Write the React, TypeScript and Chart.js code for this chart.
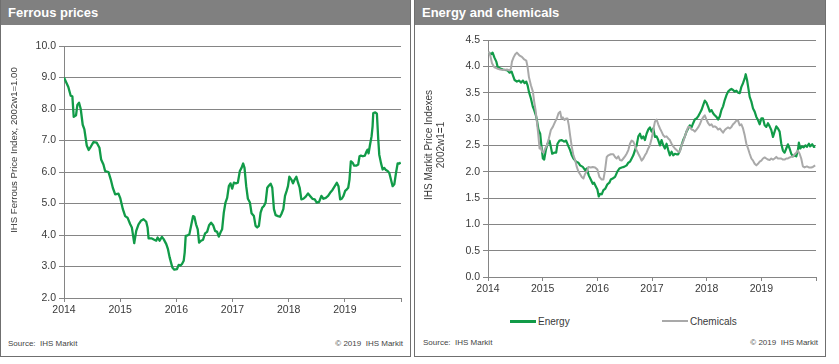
import React, { useEffect, useRef } from 'react';
import { Chart, registerables } from 'chart.js';

Chart.register(...registerables);

// ---------- DATA ----------
const yearTicks = [2014, 2015, 2016, 2017, 2018, 2019];

const ferrousYears = [
  2014.0, 2014.077, 2014.119, 2014.149, 2014.173, 2014.214, 2014.238, 2014.268, 2014.298, 2014.333,
  2014.363, 2014.405, 2014.44, 2014.476, 2014.524, 2014.583, 2014.631, 2014.661, 2014.702, 2014.732,
  2014.792, 2014.833, 2014.869, 2014.911, 2014.97, 2015.0, 2015.048, 2015.089, 2015.131, 2015.179,
  2015.208, 2015.25, 2015.286, 2015.327, 2015.369, 2015.417, 2015.464, 2015.488, 2015.506, 2015.565,
  2015.607, 2015.643, 2015.667, 2015.702, 2015.744, 2015.774, 2015.821, 2015.851, 2015.881, 2015.905,
  2015.929, 2015.964, 2016.012, 2016.042, 2016.071, 2016.101, 2016.131, 2016.149, 2016.167, 2016.202,
  2016.232, 2016.268, 2016.298, 2016.321, 2016.351, 2016.381, 2016.405, 2016.44, 2016.476, 2016.512,
  2016.548, 2016.583, 2016.619, 2016.655, 2016.69, 2016.726, 2016.756, 2016.786, 2016.815, 2016.845,
  2016.875, 2016.905, 2016.935, 2016.964, 2016.994, 2017.024, 2017.06, 2017.095, 2017.131, 2017.161,
  2017.19, 2017.214, 2017.244, 2017.274, 2017.31, 2017.339, 2017.381, 2017.411, 2017.44, 2017.47,
  2017.5, 2017.53, 2017.56, 2017.589, 2017.619, 2017.649, 2017.679, 2017.708, 2017.738, 2017.768,
  2017.81, 2017.845, 2017.869, 2017.905, 2017.935, 2017.964, 2017.988, 2018.012, 2018.048, 2018.077,
  2018.107, 2018.137, 2018.167, 2018.196, 2018.226, 2018.262, 2018.304, 2018.345, 2018.381, 2018.423,
  2018.464, 2018.5, 2018.542, 2018.583, 2018.619, 2018.661, 2018.702, 2018.738, 2018.78, 2018.821,
  2018.857, 2018.887, 2018.917, 2018.946, 2018.976, 2019.006, 2019.036, 2019.06, 2019.083, 2019.107,
  2019.137, 2019.167, 2019.202, 2019.238, 2019.262, 2019.286, 2019.321, 2019.357, 2019.381, 2019.405,
  2019.423, 2019.446, 2019.476, 2019.494, 2019.506, 2019.542, 2019.571, 2019.595, 2019.613, 2019.643,
  2019.673, 2019.702, 2019.732, 2019.762, 2019.792, 2019.821, 2019.851, 2019.881, 2019.911, 2019.94,
  2019.97, 2019.995,
];
const ferrousValues = [
  9.0, 8.7, 8.42, 8.4, 7.75, 7.8, 8.13, 8.2, 8.0, 7.5,
  7.35, 6.84, 6.7, 6.8, 6.95, 6.93, 6.77, 6.4, 6.24, 6.03,
  6.0, 5.76, 5.5, 5.29, 5.31, 5.18, 4.82, 4.6, 4.55, 4.34,
  4.24, 3.74, 4.13, 4.34, 4.45, 4.5, 4.42, 4.24, 3.89, 3.89,
  3.85, 3.82, 3.92, 3.82, 3.94, 3.87, 3.71, 3.55, 3.29, 3.13,
  2.97, 2.9, 2.92, 3.05, 3.03, 3.08, 3.18, 3.45, 3.97, 3.99,
  4.02, 4.34, 4.6, 4.58, 4.34, 4.18, 3.76, 3.82, 3.85, 4.05,
  4.1, 4.31, 4.39, 4.31, 4.13, 4.1, 3.95, 4.08, 4.18, 4.71,
  5.03, 5.18, 5.55, 5.64, 5.47, 5.66, 5.64, 5.66, 6.03, 6.13,
  6.27, 6.13, 5.55, 5.15, 5.03, 4.69, 4.6, 4.29, 4.24, 4.29,
  4.71, 4.87, 4.92, 5.03, 5.5, 5.57, 5.63, 5.5, 4.82, 4.63,
  4.6, 4.58, 4.66, 4.82, 5.24, 5.4, 5.55, 5.85, 5.76, 5.64,
  5.76, 5.85, 5.66, 5.5, 5.13, 5.15, 5.22, 5.32, 5.24, 5.15,
  5.13, 5.03, 5.05, 5.24, 5.15, 5.18, 5.24, 5.34, 5.43, 5.55,
  5.66, 5.55, 5.13, 5.15, 5.24, 5.4, 5.45, 5.5, 5.76, 6.34,
  6.3, 6.2, 6.2, 6.24, 6.5, 6.52, 6.5, 6.52, 6.63, 6.71,
  6.59, 6.84, 7.13, 7.45, 7.87, 7.89, 7.85, 7.03, 6.55, 6.29,
  6.08, 6.13, 6.06, 6.03, 5.97, 5.76, 5.55, 5.61, 5.97, 6.27,
  6.27, 6.3,
];

const energyYears = [
  2014.012, 2014.055, 2014.085, 2014.116, 2014.152, 2014.176, 2014.225, 2014.274, 2014.316, 2014.359,
  2014.395, 2014.432, 2014.456, 2014.487, 2014.529, 2014.572, 2014.602, 2014.639, 2014.669, 2014.7,
  2014.724, 2014.748, 2014.785, 2014.821, 2014.845, 2014.876, 2014.894, 2014.925, 2014.955, 2014.973,
  2015.004, 2015.028, 2015.058, 2015.089, 2015.125, 2015.15, 2015.174, 2015.21, 2015.247, 2015.271,
  2015.308, 2015.35, 2015.393, 2015.429, 2015.472, 2015.502, 2015.533, 2015.563, 2015.612, 2015.655,
  2015.685, 2015.734, 2015.776, 2015.807, 2015.843, 2015.88, 2015.916, 2015.94, 2015.977, 2016.001,
  2016.026, 2016.05, 2016.08, 2016.111, 2016.147, 2016.184, 2016.22, 2016.245, 2016.281, 2016.324,
  2016.366, 2016.403, 2016.445, 2016.488, 2016.536, 2016.567, 2016.597, 2016.628, 2016.658, 2016.689,
  2016.719, 2016.75, 2016.78, 2016.81, 2016.841, 2016.871, 2016.901, 2016.932, 2016.962, 2016.993,
  2017.023, 2017.054, 2017.084, 2017.114, 2017.145, 2017.175, 2017.206, 2017.236, 2017.266, 2017.297,
  2017.327, 2017.358, 2017.388, 2017.418, 2017.449, 2017.479, 2017.51, 2017.54, 2017.571, 2017.601,
  2017.631, 2017.662, 2017.692, 2017.723, 2017.753, 2017.783, 2017.814, 2017.844, 2017.875, 2017.905,
  2017.935, 2017.966, 2017.996, 2018.027, 2018.057, 2018.088, 2018.118, 2018.148, 2018.179, 2018.209,
  2018.24, 2018.27, 2018.3, 2018.331, 2018.361, 2018.392, 2018.422, 2018.453, 2018.483, 2018.513,
  2018.544, 2018.574, 2018.605, 2018.635, 2018.665, 2018.696, 2018.714, 2018.739, 2018.763, 2018.787,
  2018.818, 2018.848, 2018.878, 2018.909, 2018.939, 2018.97, 2019.0, 2019.03, 2019.061, 2019.091,
  2019.122, 2019.152, 2019.182, 2019.213, 2019.243, 2019.274, 2019.304, 2019.335, 2019.365, 2019.395,
  2019.426, 2019.456, 2019.487, 2019.517, 2019.547, 2019.578, 2019.608, 2019.639, 2019.669, 2019.687,
  2019.712, 2019.742, 2019.772, 2019.809, 2019.833, 2019.87, 2019.894, 2019.931, 2019.961, 2019.985,
];
const energyValues = [
  4.26, 4.23, 4.26, 4.17, 4.09, 3.99, 3.96, 3.94, 3.93, 3.92,
  3.88, 3.9, 3.83, 3.74, 3.71, 3.73, 3.69, 3.73, 3.68, 3.71,
  3.64, 3.52, 3.39, 3.23, 3.17, 3.07, 2.98, 2.79, 2.72, 2.53,
  2.25, 2.23, 2.41, 2.53, 2.59, 2.47, 2.34, 2.36, 2.36, 2.53,
  2.59, 2.6, 2.57, 2.59, 2.48, 2.41, 2.31, 2.25, 2.19, 2.17,
  2.12, 2.09, 2.03, 2.06, 1.93, 1.85, 1.77, 1.79, 1.71, 1.66,
  1.53, 1.58, 1.57, 1.65, 1.68, 1.76, 1.79, 1.85, 1.87, 1.9,
  2.0, 2.06, 2.08, 2.09, 2.12, 2.17, 2.19, 2.25, 2.31, 2.41,
  2.5, 2.67, 2.72, 2.63, 2.67, 2.6, 2.72, 2.8, 2.84, 2.76,
  2.82, 2.66, 2.67, 2.6, 2.5, 2.6, 2.5, 2.44, 2.53, 2.41,
  2.31, 2.38, 2.31, 2.34, 2.33, 2.33, 2.4, 2.5, 2.6, 2.67,
  2.76, 2.82, 2.88, 2.84, 2.92, 2.99, 3.01, 3.05, 3.11, 3.17,
  3.26, 3.35, 3.31, 3.23, 3.14, 3.17, 3.11, 3.07, 3.04, 2.99,
  3.05, 3.17, 3.24, 3.36, 3.45, 3.52, 3.55, 3.57, 3.55, 3.52,
  3.54, 3.5, 3.49, 3.61, 3.68, 3.77, 3.85, 3.74, 3.58, 3.42,
  3.33, 3.2, 3.14, 3.04, 2.98, 2.9, 3.01, 3.01, 2.88, 2.85,
  2.92, 2.86, 2.79, 2.66, 2.76, 2.86, 2.82, 2.76, 2.53, 2.4,
  2.36, 2.44, 2.52, 2.44, 2.34, 2.29, 2.31, 2.29, 2.41, 2.55,
  2.44, 2.48, 2.46, 2.5, 2.47, 2.53, 2.48, 2.52, 2.47, 2.48,
];

const chemicalsYears = [
  2014.012, 2014.043, 2014.073, 2014.116, 2014.164, 2014.225, 2014.286, 2014.347, 2014.395, 2014.42,
  2014.438, 2014.468, 2014.499, 2014.529, 2014.572, 2014.62, 2014.663, 2014.7, 2014.724, 2014.748,
  2014.785, 2014.821, 2014.845, 2014.87, 2014.894, 2014.918, 2014.943, 2014.967, 2014.991, 2015.016,
  2015.046, 2015.077, 2015.113, 2015.15, 2015.186, 2015.229, 2015.259, 2015.29, 2015.32, 2015.344,
  2015.369, 2015.399, 2015.429, 2015.454, 2015.478, 2015.502, 2015.533, 2015.563, 2015.594, 2015.624,
  2015.655, 2015.685, 2015.715, 2015.746, 2015.776, 2015.807, 2015.837, 2015.88, 2015.916, 2015.959,
  2016.001, 2016.038, 2016.08, 2016.111, 2016.141, 2016.172, 2016.202, 2016.245, 2016.293, 2016.324,
  2016.354, 2016.384, 2016.415, 2016.445, 2016.476, 2016.506, 2016.536, 2016.567, 2016.597, 2016.628,
  2016.658, 2016.689, 2016.719, 2016.75, 2016.78, 2016.81, 2016.841, 2016.871, 2016.901, 2016.932,
  2016.962, 2016.993, 2017.023, 2017.054, 2017.084, 2017.114, 2017.145, 2017.175, 2017.206, 2017.236,
  2017.266, 2017.297, 2017.327, 2017.358, 2017.388, 2017.418, 2017.449, 2017.479, 2017.51, 2017.54,
  2017.571, 2017.601, 2017.631, 2017.662, 2017.692, 2017.723, 2017.753, 2017.783, 2017.814, 2017.844,
  2017.875, 2017.905, 2017.935, 2017.966, 2017.996, 2018.027, 2018.057, 2018.088, 2018.118, 2018.148,
  2018.179, 2018.209, 2018.24, 2018.27, 2018.3, 2018.331, 2018.361, 2018.392, 2018.422, 2018.453,
  2018.483, 2018.513, 2018.544, 2018.574, 2018.605, 2018.635, 2018.665, 2018.696, 2018.726, 2018.757,
  2018.787, 2018.818, 2018.848, 2018.878, 2018.909, 2018.939, 2018.97, 2019.0, 2019.03, 2019.061,
  2019.091, 2019.122, 2019.152, 2019.182, 2019.213, 2019.243, 2019.274, 2019.304, 2019.335, 2019.365,
  2019.395, 2019.426, 2019.456, 2019.487, 2019.517, 2019.547, 2019.578, 2019.608, 2019.639, 2019.669,
  2019.7, 2019.73, 2019.76, 2019.791, 2019.833, 2019.87, 2019.912, 2019.943, 2019.985,
];
const chemicalsValues = [
  4.28, 4.2, 4.06, 3.98, 3.96, 3.94, 3.93, 3.94, 3.92, 3.96,
  4.09, 4.17, 4.23, 4.26, 4.21, 4.18, 4.13, 4.11, 3.99, 3.8,
  3.64, 3.52, 3.33, 3.17, 2.95, 2.72, 2.44, 2.47, 2.38, 2.36,
  2.44, 2.5, 2.63, 2.79, 2.85, 2.95, 3.01, 3.11, 3.14, 3.01,
  3.03, 2.98, 3.01, 3.01, 2.88, 2.69, 2.47, 2.31, 2.22, 2.09,
  2.0, 1.95, 1.9, 1.87, 1.96, 2.0, 2.09, 2.08, 2.09, 2.08,
  2.04, 1.9, 1.85, 1.85, 2.03, 2.28, 2.31, 2.33, 2.33, 2.28,
  2.25, 2.29, 2.22, 2.21, 2.25, 2.29, 2.34, 2.41, 2.53, 2.59,
  2.57, 2.5, 2.41, 2.34, 2.28, 2.21, 2.25, 2.31, 2.36, 2.44,
  2.5, 2.63, 2.79, 2.95, 2.99, 2.9, 2.82, 2.76, 2.69, 2.66,
  2.67, 2.63, 2.6, 2.53, 2.48, 2.44, 2.41, 2.38, 2.38, 2.5,
  2.57, 2.67, 2.76, 2.85, 2.85, 2.8, 2.79, 2.76, 2.8, 2.84,
  2.9, 2.98, 3.03, 3.07, 2.99, 2.92, 2.88, 2.9, 2.85, 2.86,
  2.84, 2.8, 2.82, 2.78, 2.74, 2.79, 2.82, 2.84, 2.82, 2.85,
  2.9, 2.93, 2.97, 2.97, 2.88, 2.9, 2.82, 2.69, 2.53, 2.44,
  2.34, 2.25, 2.21, 2.15, 2.12, 2.15, 2.19, 2.21, 2.25, 2.27,
  2.25, 2.23, 2.22, 2.25, 2.23, 2.25, 2.28, 2.25, 2.25, 2.25,
  2.23, 2.23, 2.25, 2.25, 2.27, 2.28, 2.29, 2.33, 2.36, 2.4,
  2.34, 2.25, 2.1, 2.08, 2.1, 2.08, 2.08, 2.09, 2.12,
];

const ferrousTicks = [2, 3, 4, 5, 6, 7, 8, 9, 10];
const indexTicks = [0, 0.5, 1, 1.5, 2, 2.5, 3, 3.5, 4, 4.5];

// ---------- STYLE ----------
const FONT = "'Liberation Sans', Arial, Helvetica, sans-serif";
const GREEN = '#119b48';
const GREY_LINE = '#a9a9a9';
const GRID = '#858585';
const TEXT = '#3a3a3a';

function pts(xs: number[], ys: number[]) {
  return xs.map((x, i) => ({ x, y: ys[i] }));
}

function makeScales(yTicks: number[], yAxisWidth: number, xAxisHeight: number) {
  return {
    x: {
      type: 'linear',
      min: 2014,
      max: 2020,
      afterBuildTicks: (s: any) => {
        s.ticks = [...yearTicks, 2020].map((v) => ({ value: v }));
      },
      afterFit: (s: any) => {
        s.height = xAxisHeight;
      },
      ticks: {
        autoSkip: false,
        maxRotation: 0,
        padding: 2,
        color: TEXT,
        font: { family: FONT, size: 10.5 },
        callback: (v: any) => (yearTicks.includes(v) ? String(v) : ''),
      },
      grid: { drawOnChartArea: false, drawTicks: true, tickLength: 4, color: GRID },
      border: { display: true, color: GRID, width: 1 },
    },
    y: {
      type: 'linear',
      min: yTicks[0],
      max: yTicks[yTicks.length - 1],
      afterBuildTicks: (s: any) => {
        s.ticks = yTicks.map((v) => ({ value: v }));
      },
      afterFit: (s: any) => {
        s.width = yAxisWidth;
      },
      ticks: {
        padding: 3,
        color: TEXT,
        font: { family: FONT, size: 10.5 },
        callback: (v: any) => Number(v).toFixed(1),
      },
      grid: { drawOnChartArea: true, drawTicks: true, tickLength: 5, color: GRID, lineWidth: 1 },
      border: { display: true, color: GRID, width: 1 },
    },
  };
}

function ChartCanvas(props: {
  left: number;
  top: number;
  width: number;
  height: number;
  datasets: any[];
  yTicks: number[];
  yAxisWidth: number;
  xAxisHeight: number;
  padding: { left: number; right: number; top: number; bottom: number };
}) {
  const ref = useRef<HTMLCanvasElement | null>(null);
  useEffect(() => {
    if (!ref.current) return;
    const chart = new Chart(ref.current, {
      type: 'line',
      data: { datasets: props.datasets },
      options: {
        animation: false,
        responsive: false,
        maintainAspectRatio: false,
        devicePixelRatio: 1,
        layout: { padding: props.padding },
        plugins: { legend: { display: false }, tooltip: { enabled: false } },
        elements: { point: { radius: 0 }, line: { tension: 0 } },
        scales: makeScales(props.yTicks, props.yAxisWidth, props.xAxisHeight) as any,
      },
    });
    return () => chart.destroy();
  }, []);
  return (
    <canvas
      ref={ref}
      width={props.width}
      height={props.height}
      style={{ position: 'absolute', left: props.left, top: props.top, width: props.width, height: props.height }}
    />
  );
}

const panelStyle = (left: number, width: number): React.CSSProperties => ({
  position: 'absolute',
  left,
  top: 0,
  width,
  height: 357,
  border: '1px solid #6f6f6f',
  borderTop: 'none',
  boxSizing: 'border-box',
  background: '#fff',
});

const headerStyle: React.CSSProperties = {
  position: 'absolute',
  left: 0,
  top: 0,
  right: 0,
  height: 25,
  background: '#808080',
  color: '#fff',
  fontFamily: FONT,
  fontWeight: 'bold',
  fontSize: 13,
  lineHeight: '25px',
  paddingLeft: 7,
  boxSizing: 'border-box',
};

const smallText: React.CSSProperties = {
  position: 'absolute',
  fontFamily: FONT,
  fontSize: 8,
  color: '#444',
  whiteSpace: 'nowrap',
  lineHeight: '10px',
};

export default function App() {
  const ferrousDatasets = [
    {
      label: 'Ferrous',
      data: pts(ferrousYears, ferrousValues),
      borderColor: GREEN,
      borderWidth: 2.3,
      pointRadius: 0,
      fill: false,
      borderJoinStyle: 'round',
    },
  ];
  const energyDatasets = [
    {
      label: 'Chemicals',
      data: pts(chemicalsYears, chemicalsValues),
      borderColor: GREY_LINE,
      borderWidth: 2,
      pointRadius: 0,
      fill: false,
      borderJoinStyle: 'round',
    },
    {
      label: 'Energy',
      data: pts(energyYears, energyValues),
      borderColor: GREEN,
      borderWidth: 2.2,
      pointRadius: 0,
      fill: false,
      borderJoinStyle: 'round',
    },
  ];

  return (
    <div style={{ position: 'absolute', left: 0, top: 0, width: 839, height: 364, background: '#fff', overflow: 'hidden' }}>
      {/* Left panel */}
      <div style={panelStyle(0, 411)}>
        <div style={headerStyle}>Ferrous prices</div>
        <ChartCanvas
          left={-1}
          top={26}
          width={411}
          height={300}
          datasets={ferrousDatasets}
          yTicks={ferrousTicks}
          yAxisWidth={64}
          xAxisHeight={28}
          padding={{ left: 0, right: 10, top: 20, bottom: 0 }}
        />
        <div
          style={{
            position: 'absolute',
            left: 13 - 100,
            top: 150 - 7,
            width: 200,
            height: 14,
            textAlign: 'center',
            transform: 'rotate(-90deg)',
            fontFamily: FONT,
            fontSize: 9.6,
            lineHeight: '14px',
            color: TEXT,
            whiteSpace: 'nowrap',
          }}
        >
          IHS Ferrous Price Index, 2002w1=1.00
        </div>
        <div style={{ ...smallText, left: 7, top: 339 }}>Source:&nbsp; IHS Markit</div>
        <div style={{ ...smallText, right: 7, top: 339 }}>© 2019&nbsp; IHS Markit</div>
      </div>

      {/* Right panel */}
      <div style={panelStyle(414, 412)}>
        <div style={headerStyle}>Energy and chemicals</div>
        <ChartCanvas
          left={0}
          top={26}
          width={410}
          height={280}
          datasets={energyDatasets}
          yTicks={indexTicks}
          yAxisWidth={73}
          xAxisHeight={29}
          padding={{ left: 0, right: 9, top: 14, bottom: 0 }}
        />
        <div
          style={{
            position: 'absolute',
            left: 21 - 100,
            top: 145 - 13,
            width: 200,
            height: 26,
            textAlign: 'center',
            transform: 'rotate(-90deg)',
            fontFamily: FONT,
            fontSize: 10,
            lineHeight: '12px',
            color: TEXT,
            whiteSpace: 'nowrap',
          }}
        >
          IHS Markit Price Indexes
          <br />
          2002w1=1
        </div>
        {/* Legend */}
        <div style={{ position: 'absolute', left: 95, top: 320, width: 26, height: 3, background: GREEN }} />
        <div style={{ position: 'absolute', left: 123, top: 315, fontFamily: FONT, fontSize: 10, color: TEXT, lineHeight: '13px' }}>
          Energy
        </div>
        <div style={{ position: 'absolute', left: 247, top: 320, width: 26, height: 2, background: GREY_LINE }} />
        <div style={{ position: 'absolute', left: 275, top: 315, fontFamily: FONT, fontSize: 10, color: TEXT, lineHeight: '13px' }}>
          Chemicals
        </div>
        <div style={{ ...smallText, left: 8, top: 338 }}>Source:&nbsp; IHS Markit</div>
        <div style={{ ...smallText, right: 7, top: 338 }}>© 2019&nbsp; IHS Markit</div>
      </div>
    </div>
  );
}
